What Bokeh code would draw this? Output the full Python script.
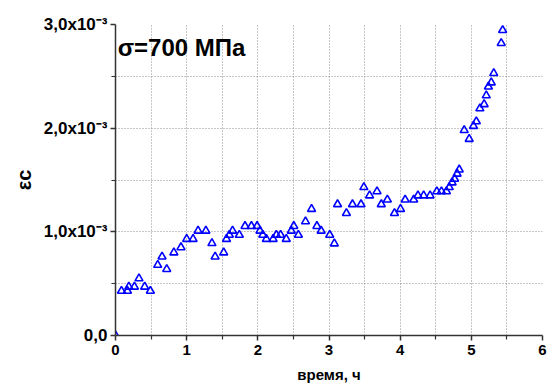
from bokeh.plotting import figure
from bokeh.models import Range1d, FixedTicker, Label
from bokeh.embed import file_html
from bokeh.resources import INLINE

# ---- data (time in hours, creep strain) ----
time_h = [0.0, 0.084, 0.168, 0.187, 0.266, 0.33, 0.41, 0.49, 0.593, 0.654,
          0.72, 0.82, 0.92, 1.00, 1.09, 1.16, 1.27, 1.355, 1.40, 1.52,
          1.56, 1.60, 1.645, 1.74, 1.82, 1.91, 1.99, 2.03, 2.07, 2.12,
          2.215, 2.26, 2.32, 2.40, 2.47, 2.505, 2.57, 2.67, 2.755, 2.83,
          2.89, 3.01, 3.075, 3.12, 3.245, 3.33, 3.45, 3.49, 3.57, 3.675,
          3.735, 3.82, 3.92, 4.005, 4.07, 4.19, 4.25, 4.33, 4.42, 4.515,
          4.58, 4.65, 4.69, 4.73, 4.765, 4.80, 4.83, 4.90, 4.97, 5.03,
          5.07, 5.12, 5.18, 5.21, 5.24, 5.28, 5.315, 5.42, 5.44]
strain = [0.0, 0.00043, 0.00043, 0.00047, 0.00047, 0.00055, 0.00047, 0.00043, 0.00068, 0.00076,
          0.00064, 0.00080, 0.00085, 0.00093, 0.00093, 0.00101, 0.00101, 0.00089, 0.00076, 0.00080,
          0.00093, 0.00097, 0.00101, 0.00097, 0.001055, 0.001055, 0.001055, 0.00101, 0.00097, 0.00093,
          0.00093, 0.00097, 0.00097, 0.00093, 0.00101, 0.001055, 0.00097, 0.00110, 0.00122, 0.001055,
          0.00101, 0.00097, 0.000887, 0.001265, 0.00118, 0.001265, 0.001265, 0.00143, 0.00135, 0.00139,
          0.001265, 0.00131, 0.00118, 0.00122, 0.00131, 0.00131, 0.00135, 0.00135, 0.00135, 0.00139,
          0.00139, 0.00139, 0.00143, 0.001475, 0.00151, 0.00156, 0.00160, 0.00198, 0.001895, 0.00202,
          0.002065, 0.00219, 0.00223, 0.002315, 0.00240, 0.00244, 0.00253, 0.00282, 0.002945]

x_ticks = [0, 1, 2, 3, 4, 5, 6]
x_minor = [0.5, 1.5, 2.5, 3.5, 4.5, 5.5]
y_ticks = [0.0, 0.001, 0.002, 0.003]
y_minor = [0.0005, 0.0015, 0.0025]
y_tick_labels = ["0,0", "1,0x10⁻³", "2,0x10⁻³", "3,0x10⁻³"]
title_text = "σ=700 МПа"
x_title = "время, ч"
y_title = "εc"

FONT = "Liberation Sans"

p = figure(width=547, height=385, output_backend="svg", toolbar_location=None,
           x_range=Range1d(0, 6), y_range=Range1d(0, 0.003),
           min_border_left=115, min_border_right=5, min_border_top=24,
           min_border_bottom=47)
p.outline_line_color = None
p.background_fill_color = "white"
p.border_fill_color = "white"

# axes
p.xaxis.ticker = FixedTicker(ticks=x_ticks, minor_ticks=x_minor)
p.yaxis.ticker = FixedTicker(ticks=y_ticks, minor_ticks=y_minor)
p.yaxis.major_label_overrides = {t: s for t, s in zip(y_ticks, y_tick_labels)}

for ax in (p.xaxis, p.yaxis):
    ax.axis_line_color = "#333333"
    ax.axis_line_width = 1.5
    ax.major_tick_line_color = "#333333"
    ax.minor_tick_line_color = "#333333"
    ax.major_tick_line_width = 1.5
    ax.minor_tick_line_width = 1.2
    ax.major_tick_in = 0
    ax.major_tick_out = 5
    ax.minor_tick_in = 0
    ax.minor_tick_out = 4
    ax.major_label_text_font = FONT
    ax.major_label_text_font_style = "bold"
    ax.major_label_text_color = "black"
    ax.axis_label_text_font = FONT
    ax.axis_label_text_font_style = "bold"
    ax.axis_label_text_color = "black"

p.xaxis.major_label_text_font_size = "15px"
p.yaxis.major_label_text_font_size = "17px"
p.xaxis.major_label_standoff = 4
p.yaxis.major_label_standoff = 3
p.xaxis.axis_label = x_title
p.xaxis.axis_label_text_font_size = "15px"
p.xaxis.axis_label_standoff = 8
p.yaxis.axis_label = y_title
p.yaxis.axis_label_text_font_size = "20px"
p.yaxis.axis_label_standoff = 6

# grid
for g in (p.xgrid, p.ygrid):
    g.grid_line_color = "#8c8c8c"
    g.grid_line_dash = "1 2"
    g.grid_line_width = 1
    g.minor_grid_line_color = "#8c8c8c"
    g.minor_grid_line_dash = "1 2"
    g.minor_grid_line_width = 1

p.scatter(time_h, strain, marker="triangle", size=8, fill_color=None,
          line_color="#0000ff", line_width=1.6)

p.add_layout(Label(x=0.03, y=0.00278, text=title_text, text_font=FONT,
                   text_font_style="bold", text_font_size="24px",
                   text_baseline="middle", text_color="black"))

open("out.html", "w").write(file_html(p, INLINE))
